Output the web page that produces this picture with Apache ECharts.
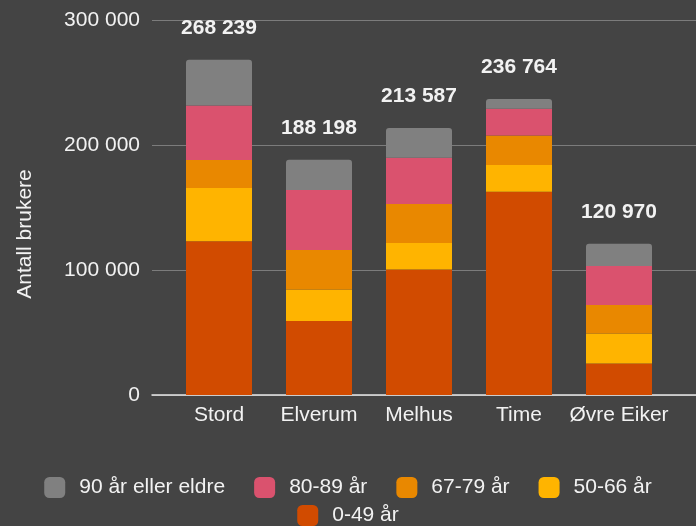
<!DOCTYPE html>
<html>
<head>
    <meta charset="utf-8">
    <title>Antall brukere</title>
    <script src="https://cdn.jsdelivr.net/npm/echarts@6/dist/echarts.min.js"></script>
    <style>
        html, body { margin: 0; padding: 0; background: #444444; }
        #container { width: 696px; height: 526px; }
    </style>
</head>
<body>
<div id="container"></div>
<script type="text/javascript">
// data
var categories = ['Stord', 'Elverum', 'Melhus', 'Time', 'Øvre Eiker'];
var age0_49  = [123000, 59200, 100500, 162700, 25300];
var age50_66 = [42600, 25300, 21100, 21300, 24000];
var age67_79 = [22400, 31500, 31200, 23700, 22700];
var age80_89 = [43700, 48000, 37100, 21300, 31200];
var age90    = [36539, 24198, 23687, 7764, 17770];
var totals   = [268239, 188198, 213587, 236764, 120970];
var yTicks   = [0, 100000, 200000, 300000];

var font = 'Liberation Sans';
var textColor = '#f2f2f2';

function fmt(v) {
    return String(v).replace(/\B(?=(\d{3})+(?!\d))/g, ' ');
}

var dom = document.getElementById('container');
var myChart = echarts.init(dom);

function bar(name, data, color) {
    return {
        name: name,
        type: 'bar',
        stack: 'total',
        xAxisIndex: 1,
        yAxisIndex: 1,
        barWidth: 66,
        itemStyle: { color: color },
        emphasis: { disabled: true },
        data: data
    };
}

var topSeries = bar('90 år eller eldre', age90, '#808080');
topSeries.itemStyle.borderRadius = [3, 3, 0, 0];
topSeries.label = {
    show: true,
    position: 'top',
    distance: 21,
    color: textColor,
    fontFamily: font,
    fontSize: 21,
    fontWeight: 'bold',
    formatter: function (p) { return fmt(totals[p.dataIndex]); }
};

var option = {
    backgroundColor: '#444444',
    animation: false,
    textStyle: { fontFamily: font },
    grid: [
        { left: 152, right: 0, top: 20, bottom: 131 },
        { left: 169, right: 27, top: 20, bottom: 131 }
    ],
    legend: [
        {
            data: ['90 år eller eldre', '80-89 år', '67-79 år', '50-66 år'],
            left: 'center', top: 472,
            icon: 'roundRect', itemWidth: 21, itemHeight: 21, itemGap: 29,
            selectedMode: false,
            textStyle: { color: textColor, fontSize: 21, fontFamily: font, padding: [0, 0, 0, 9] }
        },
        {
            data: ['0-49 år'],
            left: 'center', top: 500,
            icon: 'roundRect', itemWidth: 21, itemHeight: 21,
            selectedMode: false,
            textStyle: { color: textColor, fontSize: 21, fontFamily: font, padding: [0, 0, 0, 9] }
        }
    ],
    xAxis: [
        {
            gridIndex: 0, type: 'value', min: 0, max: 1,
            axisLabel: { show: false }, axisTick: { show: false }, splitLine: { show: false },
            axisLine: { show: true, lineStyle: { color: '#e6e6e6', width: 1.5 } }
        },
        {
            gridIndex: 1, type: 'category', data: categories,
            axisLine: { show: false }, axisTick: { show: false },
            axisLabel: { color: textColor, fontSize: 21, fontFamily: font, margin: 10, interval: 0 }
        }
    ],
    yAxis: [
        {
            gridIndex: 0, type: 'value', min: yTicks[0], max: yTicks[yTicks.length - 1], interval: 100000,
            name: 'Antall brukere', nameLocation: 'middle', nameGap: 116,
            nameTextStyle: { color: textColor, fontSize: 21, fontFamily: font, padding: [0, 53, 0, 0] },
            axisLine: { show: false }, axisTick: { show: false },
            axisLabel: { color: textColor, fontSize: 21, fontFamily: font, margin: 12, formatter: fmt },
            splitLine: { lineStyle: { color: '#7c7c7c', width: 1 } }
        },
        {
            gridIndex: 1, type: 'value', min: 0, max: 300000, interval: 100000,
            show: false, splitLine: { show: false }
        }
    ],
    series: [
        bar('0-49 år', age0_49, '#d14b00'),
        bar('50-66 år', age50_66, '#ffb400'),
        bar('67-79 år', age67_79, '#e98800'),
        bar('80-89 år', age80_89, '#da526e'),
        topSeries
    ]
};

myChart.setOption(option);
</script>
</body>
</html>
